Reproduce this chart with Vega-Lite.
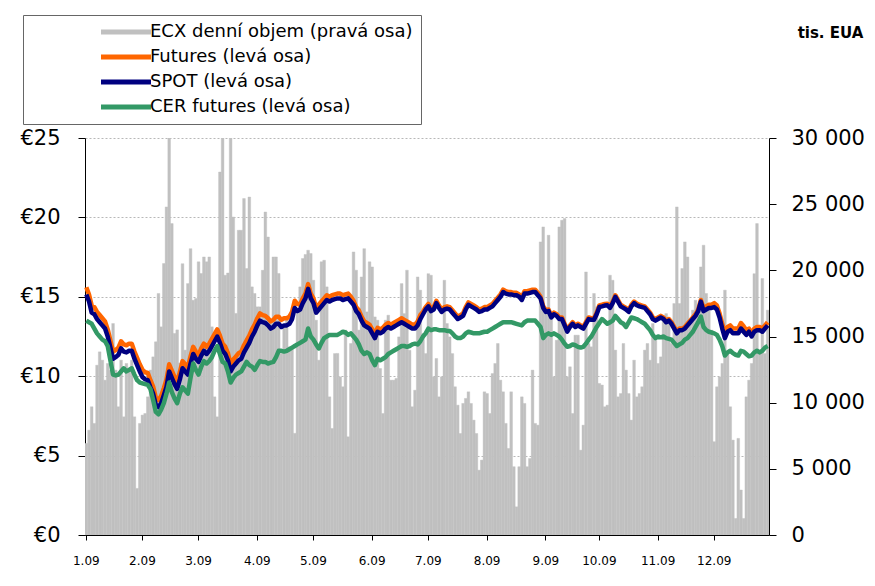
{
  "$schema": "https://vega.github.io/schema/vega-lite/v6.json",
  "width": 684,
  "height": 397,
  "autosize": {"type": "none"},
  "padding": {"left": 85, "top": 138, "right": 106, "bottom": 51},
  "background": "white",
  "config": {
    "font": "DejaVu Sans",
    "view": {"stroke": null},
    "axis": {"labelColor": "#000", "domainColor": "#000", "tickColor": "#000", "domainWidth": 1}
  },
  "data": {"values": [
{"d":"2009-01-02","v":6920,"f":15.6,"s":15.15,"c":13.5},
{"d":"2009-01-05","v":7920,"f":15.15,"s":14.7,"c":13.4},
{"d":"2009-01-06","v":9690,"f":14.45,"s":14.0,"c":13.3},
{"d":"2009-01-07","v":8430,"f":14.35,"s":13.9,"c":13.0},
{"d":"2009-01-08","v":12830,"f":14.05,"s":13.6,"c":12.7},
{"d":"2009-01-09","v":13840,"f":13.85,"s":13.4,"c":12.5},
{"d":"2009-01-12","v":13210,"f":13.65,"s":13.2,"c":12.3},
{"d":"2009-01-13","v":11700,"f":13.45,"s":13.0,"c":12.2},
{"d":"2009-01-14","v":12960,"f":12.95,"s":12.5,"c":11.9},
{"d":"2009-01-15","v":12460,"f":12.25,"s":11.8,"c":11.0},
{"d":"2009-01-16","v":15980,"f":11.55,"s":11.1,"c":10.1},
{"d":"2009-01-19","v":12460,"f":11.65,"s":11.2,"c":10.05},
{"d":"2009-01-20","v":9690,"f":11.8,"s":11.35,"c":10.1},
{"d":"2009-01-21","v":13210,"f":12.2,"s":11.75,"c":10.3},
{"d":"2009-01-22","v":8930,"f":12.0,"s":11.55,"c":10.5},
{"d":"2009-01-23","v":12960,"f":11.95,"s":11.5,"c":10.3},
{"d":"2009-01-26","v":12460,"f":12.05,"s":11.6,"c":10.4},
{"d":"2009-01-27","v":13210,"f":12.05,"s":11.6,"c":10.5},
{"d":"2009-01-28","v":8930,"f":11.55,"s":11.1,"c":10.1},
{"d":"2009-01-29","v":3520,"f":11.15,"s":10.7,"c":9.75},
{"d":"2009-01-30","v":8430,"f":10.75,"s":10.3,"c":9.6},
{"d":"2009-02-02","v":9060,"f":10.4,"s":9.95,"c":9.55},
{"d":"2009-02-03","v":9180,"f":10.25,"s":9.8,"c":9.5},
{"d":"2009-02-04","v":10440,"f":10.2,"s":9.75,"c":9.45},
{"d":"2009-02-05","v":12460,"f":9.75,"s":9.3,"c":9.2},
{"d":"2009-02-06","v":13460,"f":9.35,"s":8.9,"c":8.5},
{"d":"2009-02-09","v":14600,"f":8.65,"s":8.2,"c":7.75},
{"d":"2009-02-10","v":18250,"f":8.5,"s":8.05,"c":7.6},
{"d":"2009-02-11","v":15730,"f":8.75,"s":8.3,"c":7.9},
{"d":"2009-02-12","v":20510,"f":9.25,"s":8.8,"c":8.3},
{"d":"2009-02-13","v":24790,"f":9.8,"s":9.33,"c":8.9},
{"d":"2009-02-16","v":31000,"f":10.75,"s":10.3,"c":9.6},
{"d":"2009-02-17","v":23530,"f":10.35,"s":9.9,"c":9.0},
{"d":"2009-02-18","v":15230,"f":9.95,"s":9.5,"c":8.6},
{"d":"2009-02-19","v":15500,"f":9.65,"s":9.2,"c":8.3},
{"d":"2009-02-20","v":13000,"f":10.25,"s":9.8,"c":8.9},
{"d":"2009-02-23","v":20500,"f":10.95,"s":10.5,"c":9.3},
{"d":"2009-02-24","v":13970,"f":10.75,"s":10.3,"c":9.1},
{"d":"2009-02-25","v":19000,"f":10.55,"s":10.1,"c":8.9},
{"d":"2009-02-26","v":21640,"f":11.25,"s":10.8,"c":9.9},
{"d":"2009-02-27","v":17740,"f":11.85,"s":11.4,"c":10.8},
{"d":"2009-03-02","v":17870,"f":11.55,"s":11.1,"c":10.4},
{"d":"2009-03-03","v":20640,"f":11.35,"s":10.9,"c":10.1},
{"d":"2009-03-04","v":19760,"f":11.75,"s":11.3,"c":10.6},
{"d":"2009-03-05","v":21010,"f":12.05,"s":11.6,"c":10.95},
{"d":"2009-03-06","v":20640,"f":11.85,"s":11.4,"c":10.8},
{"d":"2009-03-09","v":21010,"f":12.05,"s":11.6,"c":10.95},
{"d":"2009-03-10","v":15730,"f":12.35,"s":11.9,"c":11.2},
{"d":"2009-03-11","v":10440,"f":12.65,"s":12.2,"c":11.6},
{"d":"2009-03-12","v":8930,"f":12.95,"s":12.5,"c":11.9},
{"d":"2009-03-13","v":27430,"f":12.55,"s":12.1,"c":11.4},
{"d":"2009-03-16","v":31000,"f":12.05,"s":11.6,"c":10.9},
{"d":"2009-03-17","v":19630,"f":11.85,"s":11.4,"c":10.8},
{"d":"2009-03-18","v":19800,"f":11.45,"s":11.0,"c":10.3},
{"d":"2009-03-19","v":31000,"f":10.75,"s":10.3,"c":9.6},
{"d":"2009-03-20","v":24030,"f":11.05,"s":10.6,"c":9.9},
{"d":"2009-03-23","v":16740,"f":11.25,"s":10.8,"c":10.1},
{"d":"2009-03-24","v":23030,"f":11.45,"s":11.0,"c":10.2},
{"d":"2009-03-25","v":23030,"f":11.55,"s":11.1,"c":10.3},
{"d":"2009-03-26","v":25420,"f":11.95,"s":11.5,"c":10.6},
{"d":"2009-03-27","v":20130,"f":12.25,"s":11.8,"c":10.9},
{"d":"2009-03-30","v":25540,"f":12.55,"s":12.1,"c":10.7},
{"d":"2009-03-31","v":18750,"f":12.95,"s":12.5,"c":10.6},
{"d":"2009-04-01","v":18250,"f":13.25,"s":12.8,"c":10.4},
{"d":"2009-04-02","v":17240,"f":13.65,"s":13.2,"c":10.7},
{"d":"2009-04-03","v":17240,"f":13.95,"s":13.5,"c":10.95},
{"d":"2009-04-06","v":20000,"f":13.85,"s":13.4,"c":10.9},
{"d":"2009-04-07","v":24410,"f":13.8,"s":13.35,"c":10.9},
{"d":"2009-04-08","v":22520,"f":13.65,"s":13.2,"c":10.8},
{"d":"2009-04-09","v":16230,"f":13.45,"s":13.0,"c":10.85},
{"d":"2009-04-14","v":21010,"f":13.55,"s":13.1,"c":10.9},
{"d":"2009-04-15","v":21010,"f":13.75,"s":13.3,"c":11.2},
{"d":"2009-04-16","v":19760,"f":13.75,"s":13.3,"c":11.6},
{"d":"2009-04-17","v":13720,"f":13.55,"s":13.1,"c":11.6},
{"d":"2009-04-20","v":15730,"f":13.65,"s":13.2,"c":11.55},
{"d":"2009-04-21","v":16480,"f":13.65,"s":13.2,"c":11.6},
{"d":"2009-04-22","v":14220,"f":13.75,"s":13.3,"c":11.7},
{"d":"2009-04-23","v":14220,"f":14.05,"s":13.6,"c":11.8},
{"d":"2009-04-24","v":7680,"f":14.75,"s":14.3,"c":11.9},
{"d":"2009-04-27","v":16740,"f":14.55,"s":14.1,"c":12.0},
{"d":"2009-04-28","v":18750,"f":14.5,"s":14.2,"c":12.1},
{"d":"2009-04-29","v":20890,"f":14.9,"s":14.6,"c":12.2},
{"d":"2009-04-30","v":21200,"f":15.2,"s":14.9,"c":12.3},
{"d":"2009-05-01","v":21520,"f":15.8,"s":15.5,"c":13.0},
{"d":"2009-05-04","v":21270,"f":15.2,"s":14.9,"c":12.5},
{"d":"2009-05-05","v":19250,"f":14.9,"s":14.6,"c":12.3},
{"d":"2009-05-06","v":16230,"f":14.3,"s":14.0,"c":12.0},
{"d":"2009-05-07","v":13210,"f":14.5,"s":14.2,"c":11.75},
{"d":"2009-05-08","v":20640,"f":14.7,"s":14.4,"c":12.1},
{"d":"2009-05-11","v":20760,"f":14.9,"s":14.6,"c":12.4},
{"d":"2009-05-12","v":18750,"f":15.1,"s":14.8,"c":12.5},
{"d":"2009-05-13","v":10440,"f":15.0,"s":14.7,"c":12.6},
{"d":"2009-05-14","v":8050,"f":15.1,"s":14.8,"c":12.6},
{"d":"2009-05-15","v":13710,"f":15.15,"s":14.85,"c":12.6},
{"d":"2009-05-18","v":13720,"f":15.2,"s":14.9,"c":12.6},
{"d":"2009-05-19","v":11950,"f":15.2,"s":14.9,"c":12.7},
{"d":"2009-05-20","v":11200,"f":15.1,"s":14.8,"c":12.8},
{"d":"2009-05-21","v":15480,"f":15.15,"s":14.85,"c":12.75},
{"d":"2009-05-22","v":7420,"f":15.2,"s":14.9,"c":12.6},
{"d":"2009-05-25","v":14470,"f":15.0,"s":14.7,"c":12.7},
{"d":"2009-05-26","v":21390,"f":14.75,"s":14.5,"c":12.5},
{"d":"2009-05-27","v":20010,"f":14.35,"s":14.1,"c":12.3},
{"d":"2009-05-28","v":15480,"f":14.15,"s":13.9,"c":12.0},
{"d":"2009-05-29","v":19500,"f":13.75,"s":13.5,"c":11.6},
{"d":"2009-06-01","v":21640,"f":13.45,"s":13.2,"c":11.4},
{"d":"2009-06-02","v":16860,"f":13.35,"s":13.1,"c":11.5},
{"d":"2009-06-03","v":20640,"f":13.25,"s":13.0,"c":11.4},
{"d":"2009-06-04","v":20260,"f":12.95,"s":12.7,"c":11.0},
{"d":"2009-06-05","v":16480,"f":12.65,"s":12.4,"c":10.7},
{"d":"2009-06-08","v":16230,"f":13.05,"s":12.8,"c":11.1},
{"d":"2009-06-09","v":12580,"f":12.95,"s":12.7,"c":11.0},
{"d":"2009-06-10","v":9180,"f":13.05,"s":12.8,"c":11.1},
{"d":"2009-06-11","v":16230,"f":13.25,"s":13.0,"c":11.2},
{"d":"2009-06-12","v":16610,"f":13.35,"s":13.1,"c":11.4},
{"d":"2009-06-15","v":11700,"f":13.25,"s":13.0,"c":11.5},
{"d":"2009-06-16","v":11700,"f":13.35,"s":13.1,"c":11.6},
{"d":"2009-06-17","v":11830,"f":13.45,"s":13.2,"c":11.7},
{"d":"2009-06-18","v":14970,"f":13.55,"s":13.3,"c":11.8},
{"d":"2009-06-19","v":19000,"f":13.65,"s":13.4,"c":11.9},
{"d":"2009-06-22","v":16730,"f":13.55,"s":13.3,"c":11.9},
{"d":"2009-06-23","v":20010,"f":13.45,"s":13.2,"c":11.85},
{"d":"2009-06-24","v":13960,"f":13.35,"s":13.1,"c":11.9},
{"d":"2009-06-25","v":9690,"f":13.25,"s":13.0,"c":12.0},
{"d":"2009-06-26","v":10940,"f":13.25,"s":13.0,"c":12.05},
{"d":"2009-06-29","v":19500,"f":13.45,"s":13.2,"c":12.0},
{"d":"2009-06-30","v":18500,"f":13.85,"s":13.6,"c":12.2},
{"d":"2009-07-01","v":15220,"f":14.05,"s":13.9,"c":12.5},
{"d":"2009-07-02","v":13710,"f":14.35,"s":14.2,"c":12.7},
{"d":"2009-07-03","v":19750,"f":14.55,"s":14.4,"c":13.0},
{"d":"2009-07-06","v":19630,"f":14.25,"s":14.1,"c":12.9},
{"d":"2009-07-07","v":11950,"f":14.35,"s":14.2,"c":12.95},
{"d":"2009-07-08","v":13340,"f":14.75,"s":14.6,"c":12.95},
{"d":"2009-07-09","v":10440,"f":14.45,"s":14.3,"c":12.9},
{"d":"2009-07-10","v":11950,"f":14.2,"s":14.05,"c":12.9},
{"d":"2009-07-13","v":19250,"f":14.35,"s":14.2,"c":12.9},
{"d":"2009-07-14","v":15980,"f":14.4,"s":14.25,"c":12.85},
{"d":"2009-07-15","v":14970,"f":14.35,"s":14.2,"c":12.85},
{"d":"2009-07-16","v":13710,"f":14.15,"s":14.0,"c":12.7},
{"d":"2009-07-17","v":11200,"f":13.95,"s":13.8,"c":12.5},
{"d":"2009-07-20","v":9810,"f":13.75,"s":13.6,"c":12.4},
{"d":"2009-07-21","v":7670,"f":13.85,"s":13.7,"c":12.4},
{"d":"2009-07-22","v":9940,"f":13.95,"s":13.8,"c":12.5},
{"d":"2009-07-23","v":10320,"f":14.35,"s":14.2,"c":12.7},
{"d":"2009-07-24","v":10820,"f":14.65,"s":14.5,"c":12.8},
{"d":"2009-07-27","v":9940,"f":14.55,"s":14.4,"c":12.75},
{"d":"2009-07-28","v":8680,"f":14.45,"s":14.3,"c":12.7},
{"d":"2009-07-29","v":7670,"f":14.35,"s":14.2,"c":12.7},
{"d":"2009-07-30","v":4900,"f":14.2,"s":14.05,"c":12.7},
{"d":"2009-07-31","v":5660,"f":14.25,"s":14.1,"c":12.75},
{"d":"2009-08-03","v":10820,"f":14.35,"s":14.2,"c":12.8},
{"d":"2009-08-04","v":10690,"f":14.35,"s":14.2,"c":12.8},
{"d":"2009-08-05","v":9180,"f":14.45,"s":14.3,"c":12.9},
{"d":"2009-08-06","v":12200,"f":14.55,"s":14.4,"c":13.0},
{"d":"2009-08-07","v":12960,"f":14.75,"s":14.6,"c":13.1},
{"d":"2009-08-10","v":14470,"f":14.95,"s":14.8,"c":13.2},
{"d":"2009-08-11","v":11700,"f":15.15,"s":15.0,"c":13.3},
{"d":"2009-08-12","v":10820,"f":15.45,"s":15.3,"c":13.4},
{"d":"2009-08-13","v":8430,"f":15.35,"s":15.2,"c":13.4},
{"d":"2009-08-14","v":6540,"f":15.3,"s":15.15,"c":13.4},
{"d":"2009-08-17","v":10820,"f":15.3,"s":15.15,"c":13.4},
{"d":"2009-08-18","v":5160,"f":15.25,"s":15.1,"c":13.35},
{"d":"2009-08-19","v":2130,"f":15.25,"s":15.1,"c":13.3},
{"d":"2009-08-20","v":5160,"f":15.15,"s":15.0,"c":13.25},
{"d":"2009-08-21","v":10440,"f":14.95,"s":14.8,"c":13.2},
{"d":"2009-08-24","v":9940,"f":15.35,"s":15.2,"c":13.4},
{"d":"2009-08-25","v":5160,"f":15.35,"s":15.2,"c":13.5},
{"d":"2009-08-26","v":5780,"f":15.4,"s":15.25,"c":13.5},
{"d":"2009-08-27","v":12460,"f":15.45,"s":15.3,"c":13.5},
{"d":"2009-08-28","v":8430,"f":15.45,"s":15.3,"c":13.5},
{"d":"2009-08-31","v":8300,"f":15.25,"s":15.1,"c":13.3},
{"d":"2009-09-01","v":22150,"f":15.0,"s":14.9,"c":13.1},
{"d":"2009-09-02","v":23280,"f":14.4,"s":14.3,"c":12.4},
{"d":"2009-09-03","v":16730,"f":14.15,"s":14.05,"c":12.6},
{"d":"2009-09-04","v":22650,"f":14.2,"s":14.1,"c":12.7},
{"d":"2009-09-07","v":16730,"f":13.8,"s":13.7,"c":12.6},
{"d":"2009-09-08","v":11950,"f":14.0,"s":13.9,"c":12.7},
{"d":"2009-09-09","v":14720,"f":13.9,"s":13.8,"c":12.6},
{"d":"2009-09-10","v":23280,"f":13.7,"s":13.6,"c":12.5},
{"d":"2009-09-11","v":23780,"f":13.7,"s":13.6,"c":12.3},
{"d":"2009-09-14","v":23910,"f":13.3,"s":13.2,"c":12.05},
{"d":"2009-09-15","v":11950,"f":12.9,"s":12.8,"c":11.85},
{"d":"2009-09-16","v":12710,"f":13.2,"s":13.1,"c":11.9},
{"d":"2009-09-17","v":9180,"f":13.4,"s":13.3,"c":12.0},
{"d":"2009-09-18","v":15100,"f":13.2,"s":13.1,"c":11.95},
{"d":"2009-09-21","v":15100,"f":13.3,"s":13.2,"c":11.85},
{"d":"2009-09-22","v":6410,"f":13.2,"s":13.1,"c":11.8},
{"d":"2009-09-23","v":8300,"f":13.1,"s":13.0,"c":11.85},
{"d":"2009-09-24","v":19880,"f":13.4,"s":13.3,"c":12.05},
{"d":"2009-09-25","v":14470,"f":13.7,"s":13.6,"c":12.3},
{"d":"2009-09-28","v":14220,"f":13.65,"s":13.55,"c":12.5},
{"d":"2009-09-29","v":18250,"f":13.65,"s":13.55,"c":12.8},
{"d":"2009-09-30","v":17240,"f":14.0,"s":13.9,"c":13.1},
{"d":"2009-10-01","v":11450,"f":14.46,"s":14.36,"c":13.35},
{"d":"2009-10-02","v":11330,"f":14.5,"s":14.4,"c":13.6},
{"d":"2009-10-05","v":9690,"f":14.55,"s":14.45,"c":13.45},
{"d":"2009-10-06","v":9810,"f":14.57,"s":14.47,"c":13.3},
{"d":"2009-10-07","v":19630,"f":14.4,"s":14.3,"c":13.4},
{"d":"2009-10-08","v":19250,"f":14.7,"s":14.6,"c":13.5},
{"d":"2009-10-09","v":13970,"f":15.1,"s":15.0,"c":13.8},
{"d":"2009-10-12","v":10440,"f":14.8,"s":14.7,"c":13.6},
{"d":"2009-10-13","v":10690,"f":14.5,"s":14.4,"c":13.4},
{"d":"2009-10-14","v":14470,"f":14.4,"s":14.3,"c":13.3},
{"d":"2009-10-15","v":12460,"f":14.3,"s":14.2,"c":13.1},
{"d":"2009-10-16","v":10690,"f":14.15,"s":14.05,"c":13.4},
{"d":"2009-10-19","v":8680,"f":14.5,"s":14.4,"c":13.7},
{"d":"2009-10-20","v":13210,"f":14.7,"s":14.6,"c":13.65},
{"d":"2009-10-21","v":10440,"f":14.57,"s":14.47,"c":13.6},
{"d":"2009-10-22","v":10690,"f":14.5,"s":14.4,"c":13.5},
{"d":"2009-10-23","v":11200,"f":14.45,"s":14.35,"c":13.4},
{"d":"2009-10-26","v":13970,"f":14.4,"s":14.3,"c":13.3},
{"d":"2009-10-27","v":14470,"f":14.2,"s":14.1,"c":13.1},
{"d":"2009-10-28","v":13210,"f":14.0,"s":13.9,"c":12.9},
{"d":"2009-10-29","v":15980,"f":13.7,"s":13.6,"c":12.6},
{"d":"2009-10-30","v":14720,"f":13.6,"s":13.5,"c":12.4},
{"d":"2009-11-02","v":12960,"f":13.7,"s":13.6,"c":12.5},
{"d":"2009-11-03","v":13460,"f":13.8,"s":13.7,"c":12.45},
{"d":"2009-11-04","v":16230,"f":13.7,"s":13.6,"c":12.5},
{"d":"2009-11-05","v":16730,"f":13.5,"s":13.4,"c":12.4},
{"d":"2009-11-06","v":15980,"f":13.6,"s":13.5,"c":12.35},
{"d":"2009-11-09","v":14470,"f":13.4,"s":13.3,"c":12.3},
{"d":"2009-11-10","v":17490,"f":13.1,"s":13.0,"c":12.1},
{"d":"2009-11-11","v":24790,"f":12.8,"s":12.7,"c":11.9},
{"d":"2009-11-12","v":17490,"f":13.0,"s":12.9,"c":12.0},
{"d":"2009-11-13","v":20130,"f":13.0,"s":12.9,"c":12.1},
{"d":"2009-11-16","v":22150,"f":13.1,"s":13.0,"c":12.3},
{"d":"2009-11-17","v":21010,"f":13.3,"s":13.2,"c":12.4},
{"d":"2009-11-18","v":16230,"f":13.5,"s":13.4,"c":12.6},
{"d":"2009-11-19","v":16990,"f":13.7,"s":13.6,"c":12.8},
{"d":"2009-11-20","v":17740,"f":13.9,"s":13.8,"c":13.1},
{"d":"2009-11-23","v":16990,"f":14.2,"s":14.1,"c":13.4},
{"d":"2009-11-24","v":20260,"f":14.8,"s":14.7,"c":13.75},
{"d":"2009-11-25","v":21900,"f":14.3,"s":14.1,"c":13.1},
{"d":"2009-11-26","v":18250,"f":14.4,"s":14.2,"c":12.9},
{"d":"2009-11-27","v":17490,"f":14.5,"s":14.3,"c":12.8},
{"d":"2009-11-30","v":15480,"f":14.5,"s":14.3,"c":12.75},
{"d":"2009-12-01","v":7050,"f":14.6,"s":14.35,"c":12.7},
{"d":"2009-12-02","v":11200,"f":14.45,"s":14.2,"c":12.6},
{"d":"2009-12-03","v":11950,"f":13.95,"s":13.7,"c":12.3},
{"d":"2009-12-04","v":12960,"f":13.3,"s":13.0,"c":11.9},
{"d":"2009-12-07","v":18500,"f":12.7,"s":12.4,"c":11.3},
{"d":"2009-12-08","v":13710,"f":13.1,"s":12.8,"c":11.5},
{"d":"2009-12-09","v":9690,"f":13.2,"s":12.9,"c":11.6},
{"d":"2009-12-10","v":7170,"f":13.0,"s":12.7,"c":11.45},
{"d":"2009-12-11","v":1250,"f":13.0,"s":12.7,"c":11.35},
{"d":"2009-12-14","v":7300,"f":13.0,"s":12.7,"c":11.3},
{"d":"2009-12-15","v":3400,"f":13.35,"s":13.0,"c":11.6},
{"d":"2009-12-16","v":1250,"f":13.15,"s":12.8,"c":11.55},
{"d":"2009-12-17","v":10440,"f":12.9,"s":12.6,"c":11.4},
{"d":"2009-12-18","v":11700,"f":13.0,"s":12.8,"c":11.25},
{"d":"2009-12-21","v":12960,"f":12.7,"s":12.5,"c":11.3},
{"d":"2009-12-22","v":19750,"f":13.0,"s":12.8,"c":11.5},
{"d":"2009-12-23","v":23530,"f":13.1,"s":12.9,"c":11.6},
{"d":"2009-12-24","v":13970,"f":13.1,"s":12.9,"c":11.5},
{"d":"2009-12-29","v":19380,"f":13.0,"s":12.8,"c":11.6},
{"d":"2009-12-30","v":13710,"f":13.2,"s":13.0,"c":11.8},
{"d":"2009-12-31","v":16990,"f":13.4,"s":13.2,"c":11.9}
  ]},
  "encoding": {
    "x": {
      "field": "d",
      "type": "ordinal",
      "scale": {"paddingInner": 0, "paddingOuter": 0},
      "axis": {
        "title": null,
        "values": ["2009-01-02","2009-02-02","2009-03-03","2009-04-02","2009-05-05","2009-06-04","2009-07-03","2009-08-04","2009-09-03","2009-10-01","2009-11-02","2009-12-01"],
        "labelExpr": "toNumber(substring(datum.value, 5, 7)) + '.09'",
        "labelAngle": 0,
        "labelFontSize": 12,
        "tickSize": 5,
        "labelPadding": 15,
        "grid": false
      }
    }
  },
  "layer": [
    {
      "mark": {"type": "bar", "clip": true, "stroke": "#c0c0c0", "strokeWidth": 0.4},
      "encoding": {
        "y": {
          "field": "v",
          "type": "quantitative",
          "scale": {"domain": [0, 30000], "nice": false},
          "axis": {
            "orient": "right",
            "values": [0, 5000, 10000, 15000, 20000, 25000, 30000],
            "labelExpr": "replace(format(datum.value, ','), ',', ' ')",
            "labelFontSize": 21,
            "tickSize": 7,
            "labelPadding": 15,
            "grid": false,
            "title": "tis. EUA",
            "titleAngle": 0,
            "titleX": 61,
            "titleY": -106,
            "titleAlign": "center",
            "titleBaseline": "middle",
            "titleFontSize": 15,
            "titleFontWeight": "bold",
            "titleColor": "#000"
          }
        },
        "color": {
          "datum": "ECX denní objem (pravá osa)",
          "scale": {
            "domain": ["ECX denní objem (pravá osa)", "Futures (levá osa)", "SPOT (levá osa)", "CER futures (levá osa)"],
            "range": ["#c0c0c0", "#ff6600", "#000080", "#339966"]
          },
          "legend": {
            "title": null,
            "orient": "none",
            "legendX": -62,
            "legendY": -123,
            "padding": 8,
            "rowPadding": 7,
            "strokeColor": "#666666",
            "fillColor": "white",
            "labelFontSize": 18,
            "labelLimit": 800,
            "labelOffset": 15,
            "labelColor": "#000",
            "symbolType": "M-5,-0.5H5V0.5H-5Z",
            "symbolSize": 100,
            "symbolStrokeWidth": 0,
            "symbolOffset": 86
          }
        }
      }
    },
    {
      "layer": [
        {
          "mark": {"type": "line", "strokeWidth": 4.5, "strokeJoin": "round"},
          "encoding": {
            "y": {
              "field": "f", "type": "quantitative",
              "scale": {"domain": [0, 25], "nice": false},
              "axis": {
                "orient": "left", "title": null,
                "values": [0, 5, 10, 15, 20, 25],
                "labelExpr": "'€' + datum.value",
                "labelFontSize": 21, "tickSize": 7, "labelPadding": 18,
                "grid": true, "gridDash": [2, 2], "gridColor": "#b8b8b8", "gridWidth": 1
              }
            },
            "color": {"datum": "Futures (levá osa)", "legend": null}
          }
        },
        {
          "mark": {"type": "line", "strokeWidth": 4.5, "strokeJoin": "round"},
          "encoding": {
            "y": {"field": "s", "type": "quantitative", "scale": {"domain": [0, 25], "nice": false}},
            "color": {"datum": "SPOT (levá osa)", "legend": null}
          }
        },
        {
          "mark": {"type": "line", "strokeWidth": 4.5, "strokeJoin": "round"},
          "encoding": {
            "y": {"field": "c", "type": "quantitative", "scale": {"domain": [0, 25], "nice": false}},
            "color": {"datum": "CER futures (levá osa)", "legend": null}
          }
        }
      ]
    }
  ],
  "resolve": {"scale": {"y": "independent"}}
}
